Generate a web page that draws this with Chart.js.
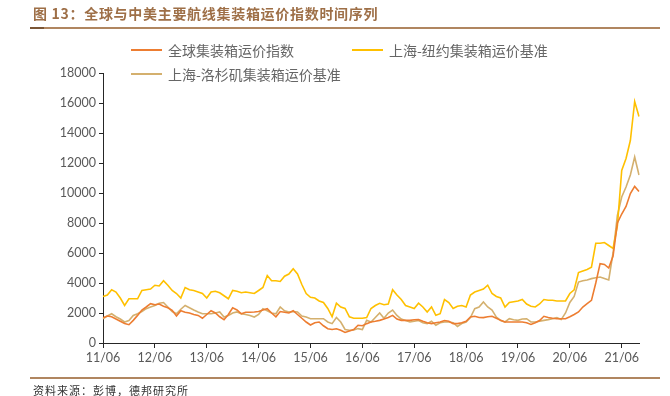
<!DOCTYPE html>
<html>
<head>
<meta charset="utf-8">
<script src="https://cdn.jsdelivr.net/npm/chart.js@4.4.1/dist/chart.umd.min.js"></script>
<style>
  html, body { margin: 0; padding: 0; background: #fff; }
  #wrap { position: relative; width: 670px; height: 396px; overflow: hidden; font-family: "Noto Sans CJK SC", sans-serif; }
  #chart { position: absolute; left: 0; top: 0; }
  #title { position: absolute; left: 33px; top: 3px; font-size: 14px; font-weight: bold; color: #9e6f47; letter-spacing: 0.7px; white-space: nowrap; }
  .rule { position: absolute; left: 30px; width: 630px; height: 2px; background: #b08660; }
  .rule .mark { position: absolute; left: 0; top: 0; width: 14px; height: 2px; background: #7a5535; }
  .leg { position: absolute; display: flex; align-items: center; font-size: 14px; color: #666; white-space: nowrap; transform: translateY(-50%); }
  .leg i { display: inline-block; width: 31px; height: 2px; margin-right: 6px; }
  #src { position: absolute; left: 33px; top: 382px; font-size: 11px; color: #333; letter-spacing: 1px; white-space: nowrap; }
</style>
</head>
<body>
<div id="wrap">
  <canvas id="chart" width="670" height="396"></canvas>
  <div id="title">图 13：全球与中美主要航线集装箱运价指数时间序列</div>
  <div class="rule" style="top:27px"><span class="mark"></span></div>
  <div id="legend"></div>
  <div class="rule" style="top:377px"></div>
  <div id="src">资料来源：彭博，德邦研究所</div>
</div>
<script>
/* ─── Data (monthly, 2011/06 – 2021/10) ─── */
const seriesNames = ["全球集装箱运价指数", "上海-纽约集装箱运价基准", "上海-洛杉矶集装箱运价基准"];

const globalIdx = [
  1690, 1800, 1750, 1600, 1450, 1300, 1220, 1510, 1840, 2200, 2400, 2620,
  2550, 2600, 2450, 2350, 2180, 1800, 2150, 2050, 2000, 1900, 1840, 1650,
  1900, 2150, 2000, 1750, 1550, 1900, 2350, 2200, 1950, 2050, 2050, 2070,
  2100, 2200, 2290, 2000, 1750, 2100, 2050, 2000, 2150, 1900, 1650, 1400,
  1200, 1350, 1400, 1150, 950, 900, 950, 850, 700, 800, 900, 1180,
  1150, 1290, 1400, 1450, 1510, 1600, 1700, 1840, 1600, 1510, 1510, 1510,
  1550, 1560, 1450, 1350, 1290, 1350, 1400, 1500, 1450, 1290, 1290, 1350,
  1450, 1730, 1780, 1700, 1690, 1750, 1780, 1650, 1510, 1400, 1400, 1400,
  1400, 1400, 1350, 1240, 1350, 1500, 1780, 1700, 1650, 1620, 1620, 1620,
  1750, 1900, 2070, 2400, 2620, 2840, 4000, 5290, 5240, 5000, 5800, 8000,
  8600, 9100, 9960, 10440, 10100
];

const shNewYork = [
  3100, 3200, 3550, 3400, 3000, 2500, 2950, 2950, 2950, 3500, 3550, 3600,
  3850, 3800, 4150, 3850, 3500, 3300, 3000, 3700, 3550, 3500, 3400, 3300,
  3000, 3400, 3450, 3350, 3150, 2950, 3500, 3450, 3350, 3400, 3350, 3300,
  3500, 3700, 4500, 4150, 4150, 4100, 4450, 4600, 4950, 4600, 3900, 3300,
  3050, 3000, 2800, 2700, 2300, 1750, 2650, 2400, 2300, 1750, 1650, 1650,
  1650, 1700, 2300, 2500, 2650, 2550, 2600, 3550, 3200, 2900, 2500, 2400,
  2300, 2650, 2400, 2070, 2400, 1850, 1950, 2900, 2700, 2300, 2450, 2500,
  2400, 3200, 3400, 3500, 3600, 3850, 3300, 3100, 3000, 2400, 2700, 2750,
  2800, 2900, 2600, 2450, 2400, 2600, 2900, 2850, 2850, 2800, 2800, 2800,
  3300, 3550, 4700, 4800, 4900, 5050, 6650, 6650, 6700, 6500, 6300, 7800,
  11500, 12300, 13500, 16100, 15100
];

const shLosAngeles = [
  1620, 1800, 1950, 1750, 1600, 1400, 1500, 1840, 1950, 2100, 2290, 2400,
  2500, 2650, 2700, 2400, 2100, 1950, 2250, 2500, 2350, 2200, 2070, 1950,
  1950, 1950, 2000, 2070, 1730, 1840, 2000, 2070, 1950, 1900, 1840, 1730,
  1900, 2290, 2150, 2000, 1950, 2400, 2150, 2070, 2100, 2070, 1800, 1730,
  1620, 1620, 1620, 1620, 1400, 1290, 1700, 1400, 900, 850, 870, 960,
  890, 1510, 1400, 1700, 2000, 1650, 2000, 2200, 1840, 1600, 1500, 1400,
  1450, 1500, 1350, 1290, 1450, 1180, 1350, 1400, 1400, 1350, 1100, 1300,
  1400, 1700, 2290, 2400, 2730, 2400, 2200, 1730, 1500, 1400, 1620, 1550,
  1510, 1600, 1620, 1400, 1400, 1450, 1510, 1560, 1620, 1690, 1560, 2000,
  2700, 3100, 4060, 4150, 4200, 4290, 4350, 4400, 4300, 4200, 6000, 8500,
  9730, 10400, 11200, 12400, 11200
];

const seriesColors = ["#ED7D31", "#FFC000", "#D4B06E"];
const yTicks = { min: 0, max: 18000, step: 2000 };

/* month labels yy/mm starting 2011/06 */
const monthLabels = globalIdx.map((_, i) => {
  const y = 2011 + Math.floor((5 + i) / 12);
  const m = ((5 + i) % 12) + 1;
  return String(y).slice(2) + "/" + String(m).padStart(2, "0");
});

/* ─── Legend ─── */
const legendPos = [
  { left: 131, top: 50 },
  { left: 352, top: 50 },
  { left: 131, top: 74 },
];
const legendEl = document.getElementById("legend");
seriesNames.forEach((name, i) => {
  const d = document.createElement("div");
  d.className = "leg";
  d.style.left = legendPos[i].left + "px";
  d.style.top = legendPos[i].top + "px";
  d.innerHTML = '<i style="background:' + seriesColors[i] + '"></i>' + name;
  legendEl.appendChild(d);
});

/* ─── Line Chart ─── */
const allSeries = [globalIdx, shNewYork, shLosAngeles];
const axisColor = "#262626";
const tickFont = { family: "Lato", size: 12.5 };

new Chart(document.getElementById("chart"), {
  type: "line",
  data: {
    labels: monthLabels,
    datasets: allSeries.map((data, i) => ({
      label: seriesNames[i],
      data: data,
      borderColor: seriesColors[i],
      backgroundColor: seriesColors[i],
      borderWidth: 1.6,
      pointRadius: 0,
      tension: 0,
      fill: false,
    })),
  },
  options: {
    responsive: false,
    animation: false,
    devicePixelRatio: 1,
    layout: {
      autoPadding: false,
      padding: { top: 73, right: 31, bottom: 23, left: 0 },
    },
    plugins: {
      legend: { display: false },
      tooltip: { enabled: false },
    },
    scales: {
      x: {
        type: "category",
        offset: false,
        grid: { drawOnChartArea: false, drawTicks: true, tickLength: 5, color: axisColor },
        border: { color: axisColor, width: 1 },
        ticks: {
          autoSkip: false,
          maxRotation: 0,
          color: "#595959",
          font: tickFont,
          padding: 2,
          callback: function (val, idx) {
            return idx % 12 === 0 ? monthLabels[idx] : null;
          },
        },
        afterFit: (s) => { s.height = 30; },
      },
      y: {
        min: yTicks.min,
        max: yTicks.max,
        grid: { drawOnChartArea: false, drawTicks: true, tickLength: 4, color: axisColor },
        border: { color: axisColor, width: 1 },
        ticks: {
          stepSize: yTicks.step,
          color: "#595959",
          font: tickFont,
          padding: 3,
          callback: (v) => String(v),
        },
        afterFit: (s) => { s.width = 103; },
      },
    },
  },
});
</script>
</body>
</html>
